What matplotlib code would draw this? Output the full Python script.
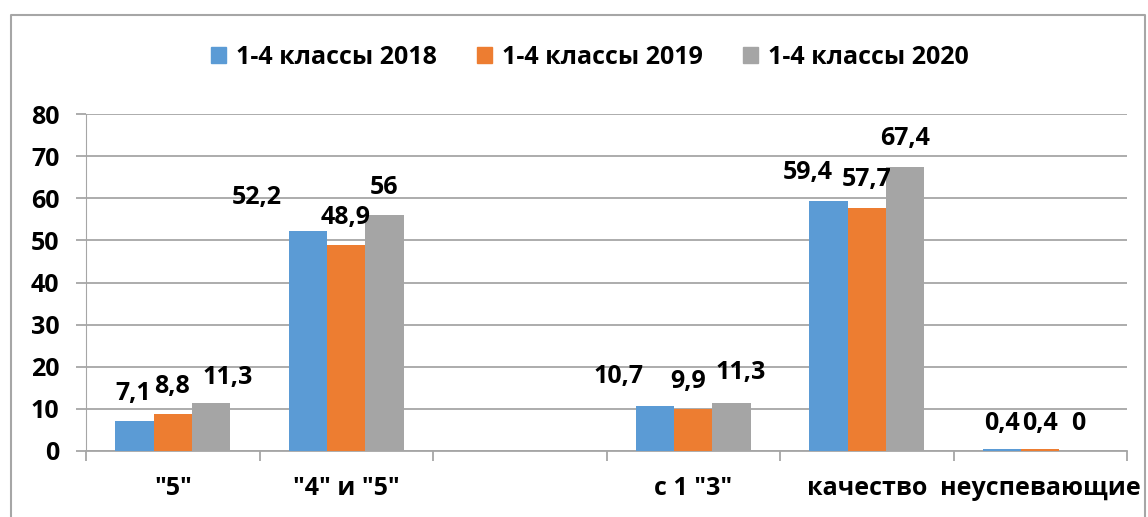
import matplotlib
matplotlib.use('Agg')
import matplotlib.pyplot as plt
import numpy as np
from matplotlib.lines import Line2D

plt.rcParams['font.family'] = ['Open Sans', 'DejaVu Sans']
plt.rcParams['font.weight'] = 'bold'

# data
categories = ['"5"', '"4" и "5"', '', 'с 1 "3"', 'качество', 'неуспевающие']
series_names = ['1-4 классы 2018', '1-4 классы 2019', '1-4 классы 2020']
v2018 = [7.1, 52.2, None, 10.7, 59.4, 0.4]
v2019 = [8.8, 48.9, None, 9.9, 57.7, 0.4]
v2020 = [11.3, 56, None, 11.3, 67.4, 0]
colors = ['#5B9BD5', '#ED7D31', '#A5A5A5']

# hand-moved label offsets (pixels from bar top centre to label centre)
nudges = [
    [(-1, 28), (-51, 34), (0, 0), (-37, 29), (-21, 28), (0, 26)],
    [(-1, 27), (-1, 28), (0, 0), (-5, 28), (0, 28), (0, 26)],
    [(17, 26), (0, 28), (0, 0), (9, 31), (0, 29), (0, 28)],
]

fig = plt.figure(figsize=(11.48, 5.17), dpi=100)
ax = fig.add_axes([86 / 1148, 1 - 451 / 517, (1127 - 86) / 1148, (451 - 114) / 517])

x = np.arange(len(categories))
w = 0.22
grid_c = '#A6A6A6'
fs = 18

for i, (vals, col) in enumerate(zip([v2018, v2019, v2020], colors)):
    xs = [xi + (i - 1) * w for xi, v in zip(x, vals) if v is not None]
    ys = [v for v in vals if v is not None]
    ax.bar(xs, ys, width=w, color=col, zorder=3)
    for j, v in enumerate(vals):
        if v is None:
            continue
        txt = ('%g' % v).replace('.', ',')
        dx, dy = nudges[i][j]
        ax.annotate(txt, (x[j] + (i - 1) * w, v), xytext=(dx * 0.72, dy * 0.72),
                    textcoords='offset points', ha='center', va='center',
                    fontsize=fs, fontweight='bold', zorder=4)

ax.set_xlim(-0.5, len(categories) - 0.5)
ax.set_ylim(0, 80)
ax.set_yticks(range(0, 81, 10))
ax.yaxis.grid(True, color=grid_c, linewidth=1.3, zorder=0)
ax.tick_params(axis='y', length=7, width=1.3, color=grid_c, pad=12, labelsize=fs)
ax.set_xticks(x)
ax.set_xticklabels(categories, fontsize=fs, fontweight='bold')
ax.set_xticks(np.arange(-0.5, len(categories), 1), minor=True)
ax.tick_params(axis='x', which='major', length=0, pad=18)
ax.tick_params(axis='x', which='minor', length=7, width=1.3, color=grid_c, direction='out')
for lab in ax.get_yticklabels():
    lab.set_fontweight('bold')

for s in ['top', 'right']:
    ax.spines[s].set_visible(False)
ax.spines['left'].set_color(grid_c)
ax.spines['left'].set_linewidth(0.8)
ax.spines['bottom'].set_color(grid_c)
ax.spines['bottom'].set_linewidth(1.3)

handles = [plt.Rectangle((0, 0), 1, 1, color=c) for c in colors]
fig.legend(handles, series_names, loc='center', bbox_to_anchor=(590 / 1148, 1 - 57 / 517),
           ncol=3, frameon=False, handlelength=0.6, handleheight=0.6,
           handletextpad=0.4, columnspacing=1.6, prop={'weight': 'bold', 'size': fs})

# chart area border (left, top, right)
fig.add_artist(Line2D([11 / 1148, 11 / 1148, 1145 / 1148, 1145 / 1148],
                      [-0.1, 1 - 15 / 517, 1 - 15 / 517, -0.1],
                      transform=fig.transFigure, color='#A6A6A6', linewidth=1.5))

fig.savefig('out.png', dpi=100)
